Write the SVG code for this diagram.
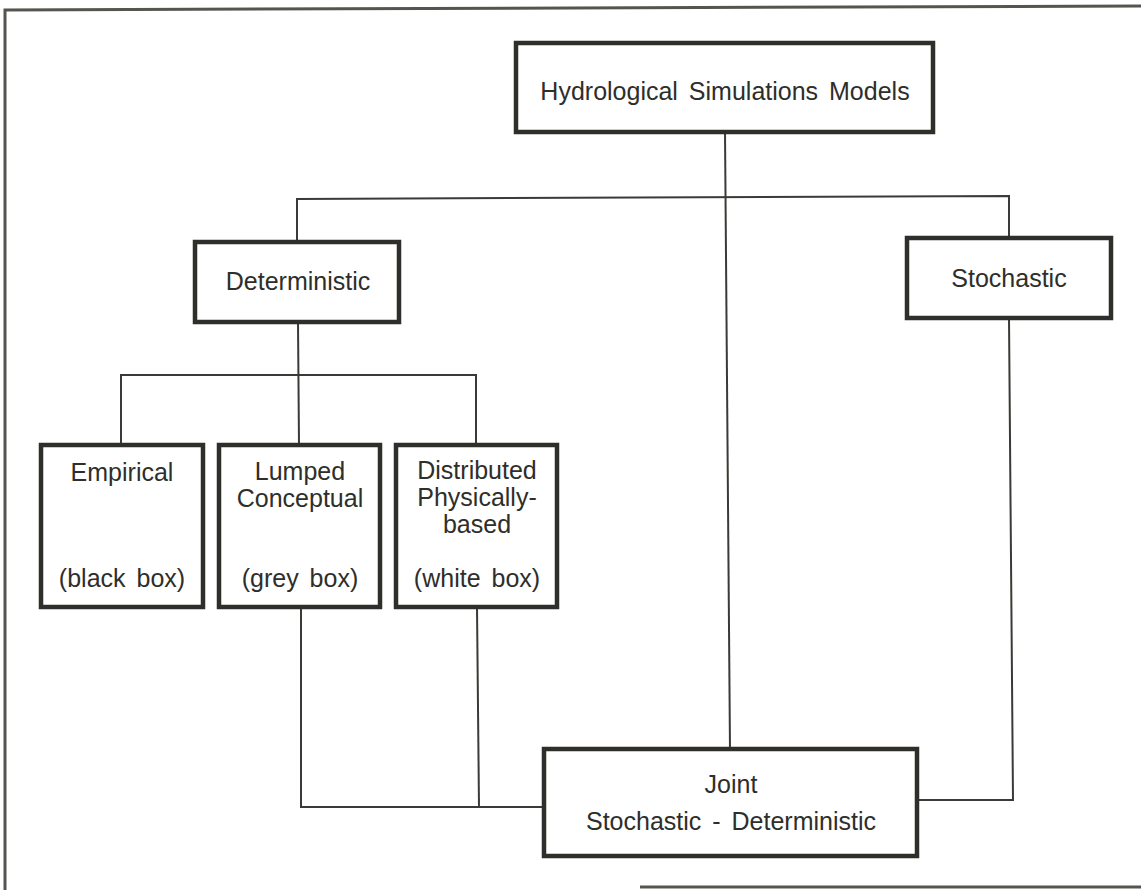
<svg xmlns="http://www.w3.org/2000/svg" width="1141" height="890" viewBox="0 0 1141 890">
<style>
.box{fill:#fff;stroke:#2e2e2a;stroke-width:4.5}
.ln{fill:none;stroke:#3a3a36;stroke-width:2}
.frame{fill:none;stroke:#555550;stroke-width:3}
text{font-family:"Liberation Sans",Arial,sans-serif;font-size:25px;fill:#2e2e2a;text-anchor:middle;word-spacing:4px}
</style>
<rect width="1141" height="890" fill="#fff"/>
<g id="frame">
<polyline class="frame" points="5,890 5,10 1141,6"/>
<line class="frame" x1="640" y1="887" x2="1141" y2="887"/>
</g>
<g id="connectors">
<line class="ln" x1="725" y1="132" x2="730" y2="750"/>
<polyline class="ln" points="297,242 297,199 1009,196 1009,238"/>
<polyline class="ln" points="1009,318 1013,800 917,800"/>
<line class="ln" x1="298" y1="322" x2="299" y2="445"/>
<polyline class="ln" points="121,445 121,375 476,375 476,445"/>
<polyline class="ln" points="301,607 301,807 544,807"/>
<line class="ln" x1="477" y1="607" x2="479" y2="807"/>
</g>
<g id="hydro">
<rect class="box" x="516" y="43" width="417" height="89"/>
<text x="725" y="100">Hydrological Simulations Models</text>
</g>
<g id="deterministic">
<rect class="box" x="195" y="242" width="204" height="80"/>
<text x="298" y="290">Deterministic</text>
</g>
<g id="stochastic">
<rect class="box" x="907" y="238" width="204" height="80"/>
<text x="1009" y="287">Stochastic</text>
</g>
<g id="empirical">
<rect class="box" x="41" y="445" width="162" height="162"/>
<text x="122" y="481">Empirical</text>
<text x="122" y="587">(black box)</text>
</g>
<g id="lumped">
<rect class="box" x="219" y="445" width="161" height="162"/>
<text x="300" y="480">Lumped</text>
<text x="300" y="507">Conceptual</text>
<text x="300" y="587">(grey box)</text>
</g>
<g id="distributed">
<rect class="box" x="396" y="445" width="161" height="162"/>
<text x="477" y="479">Distributed</text>
<text x="477" y="506">Physically-</text>
<text x="477" y="533">based</text>
<text x="477" y="587">(white box)</text>
</g>
<g id="joint">
<rect class="box" x="544" y="749" width="373" height="107"/>
<text x="731" y="793">Joint</text>
<text x="731" y="830">Stochastic - Deterministic</text>
</g>
</svg>
